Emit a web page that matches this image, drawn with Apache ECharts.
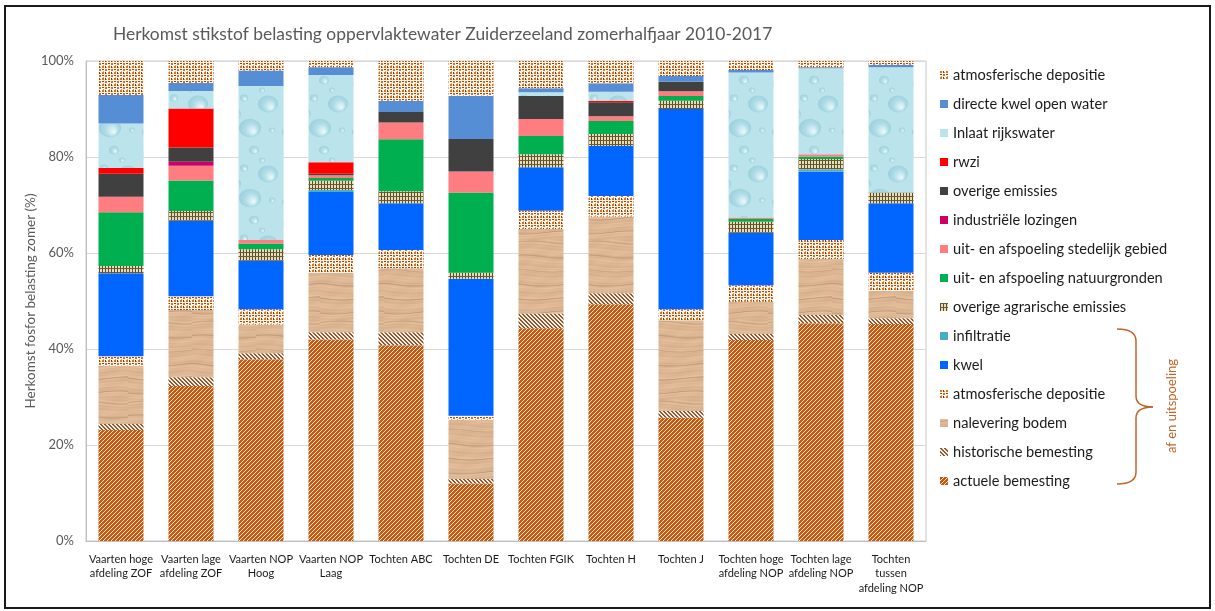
<!DOCTYPE html>
<html>
<head>
<meta charset="utf-8">
<title>Herkomst stikstof belasting oppervlaktewater Zuiderzeeland</title>
<script src="https://cdn.jsdelivr.net/npm/echarts@6/dist/echarts.min.js"></script>
<style>
  html, body { margin: 0; padding: 0; background: #ffffff; }
  #chart { width: 1215px; height: 611px; }
</style>
</head>
<body>
<div id="chart"></div>
<script>
// Gebieden (x-as)
const categories = [
  'Vaarten hoge\nafdeling ZOF', 'Vaarten lage\nafdeling ZOF', 'Vaarten NOP\nHoog', 'Vaarten NOP\nLaag',
  'Tochten ABC', 'Tochten DE', 'Tochten FGIK', 'Tochten H', 'Tochten J',
  'Tochten hoge\nafdeling NOP', 'Tochten lage\nafdeling NOP', 'Tochten\ntussen\nafdeling NOP'
];

// Aandeel per bron (%), van onder naar boven gestapeld
const actueleBemesting     = [23.1, 32.3, 37.85, 42.0, 40.8, 12.0, 44.3, 49.3, 25.7, 41.9, 45.35, 45.2];
const historischeBemesting = [1.3, 1.8, 1.25, 1.5, 2.7, 0.9, 3.1, 2.3, 1.4, 1.2, 1.75, 1.2];
const naleveringBodem      = [12.1, 14.0, 6.0, 12.4, 13.3, 12.3, 17.6, 16.0, 18.9, 6.75, 11.65, 5.75];
const atmDepositieBodem    = [2.0, 2.9, 3.2, 3.7, 3.8, 0.9, 3.8, 4.3, 2.3, 3.45, 3.95, 3.75];
const kwel                 = [17.3, 15.7, 10.1, 13.1, 9.75, 28.55, 9.05, 10.4, 41.7, 10.9, 14.25, 14.45];
const infiltratie          = [0, 0, 0, 0.4, 0, 0, 0, 0, 0, 0, 0.5, 0];
const overigeAgrarisch     = [1.5, 2.05, 2.4, 2.0, 2.5, 1.25, 2.7, 2.5, 1.7, 2.3, 2.15, 2.25];
const natuurgronden        = [11.2, 6.35, 1.2, 0.5, 10.85, 16.7, 3.85, 2.7, 1.0, 0.6, 0.5, 0];
const stedelijkGebied      = [3.2, 3.1, 0.7, 0.6, 3.5, 4.4, 3.5, 1.0, 1.0, 0.3, 0.45, 0];
const industrieleLozingen  = [0, 0.8, 0, 0, 0, 0, 0, 0, 0, 0, 0, 0];
const overigeEmissies      = [4.8, 3.0, 0, 0.3, 2.2, 6.75, 4.8, 2.9, 2.0, 0, 0, 0];
const rwzi                 = [1.2, 8.1, 0, 2.4, 0, 0, 0, 0.3, 0, 0, 0, 0];
const inlaatRijkswater     = [9.3, 3.65, 32.1, 18.2, 0, 0, 0.8, 1.9, 0, 30.2, 17.95, 26.1];
const directeKwel          = [5.9, 1.65, 3.2, 1.6, 2.3, 8.95, 0.8, 1.75, 1.2, 0.5, 0.2, 0.5];
const atmDepositieWater    = [7.1, 4.6, 2.0, 1.3, 8.3, 7.3, 5.7, 4.65, 3.1, 1.9, 1.3, 0.8];

// Y-as ticks
const yTicks = [0, 20, 40, 60, 80, 100];

// ---------- vulpatronen ----------
function hexRgb(h) {
  const n = parseInt(h.slice(1), 16);
  return [(n >> 16) & 255, (n >> 8) & 255, n & 255];
}
function pixelTile(w, h, fn) {
  const c = document.createElement('canvas');
  c.width = w; c.height = h;
  const ctx = c.getContext('2d');
  const img = ctx.createImageData(w, h);
  for (let y = 0; y < h; y++) {
    for (let x = 0; x < w; x++) {
      const rgb = fn(x, y);
      const i = (y * w + x) * 4;
      img.data[i] = rgb[0]; img.data[i + 1] = rgb[1]; img.data[i + 2] = rgb[2]; img.data[i + 3] = 255;
    }
  }
  ctx.putImageData(img, 0, 0);
  return c;
}
function pattern(canvas) { return { image: canvas, repeat: 'repeat' }; }

// schuine arcering, oranje met witte lijnen
const patActueel = pattern(pixelTile(4, 4, (x, y) =>
  ((x + y) % 4 === 3) ? hexRgb('#F6E2D0') : hexRgb('#C55A11')));

// schuine arcering andersom, bruin op wit
const patHistorisch = pattern(pixelTile(4, 4, (x, y) =>
  (((x - y) % 4 + 4) % 4 < 2) ? hexRgb('#8C5A30') : hexRgb('#F7F0E8')));

// confetti van oranje en bruine stippen
const patDepositie = pattern(pixelTile(6, 6, (x, y) => {
  if (x < 2 && y < 2) return hexRgb('#E0701A');
  if (x >= 3 && x < 5 && y >= 3 && y < 5) return hexRgb('#E06A16');
  if (x === 3 && y < 2) return hexRgb('#7A3A12');
  if (x < 2 && y === 3) return hexRgb('#8A4516');
  if (x === 4 && y === 1) return hexRgb('#EC8A3C');
  if (x === 1 && y === 5) return hexRgb('#F0A060');
  return hexRgb('#FFF8F0');
}));

// ruitjes, donker olijf op beige
const patAgrarisch = pattern(pixelTile(3, 4, (x, y) => {
  if (y === 0) return hexRgb('#6B5A34');
  if (x === 0) return hexRgb('#5A4A2A');
  return hexRgb('#E8DFB6');
}));

// houtnerf
const patHout = pattern((function () {
  const w = 64, h = 80;
  return pixelTile(w, h, (x, y) => {
    const yy = y + 1.5 * Math.sin(x * 0.08 + y * 0.05);
    let v = 4 * Math.sin(yy * 0.7) + 3 * Math.sin(yy * 1.9 + 1.3) + 2 * Math.sin(yy * 3.1 + x * 0.03);
    const streak = Math.sin(yy * 0.45 + 0.6);
    if (streak > 0.93) v -= 22 * (streak - 0.93) / 0.07;
    v += 2 * Math.sin(x * 0.21 + y * 0.4);
    return [Math.round(221 + v), Math.round(183 + v * 0.95), Math.round(148 + v * 0.9)];
  });
})());

// waterdruppels op lichtblauw
const patWater = pattern((function () {
  const c = document.createElement('canvas');
  c.width = 70; c.height = 70;
  const ctx = c.getContext('2d');
  ctx.fillStyle = '#BAE3EC';
  ctx.fillRect(0, 0, 70, 70);
  const drops = [[12, 14, 9], [44, 10, 5], [58, 34, 10], [24, 44, 7], [40, 58, 11], [6, 62, 4], [34, 28, 4], [62, 60, 3], [18, 30, 3], [52, 20, 3]];
  drops.forEach(([cx, cy, r]) => {
    for (let dx = -70; dx <= 70; dx += 70) {
      for (let dy = -70; dy <= 70; dy += 70) {
        const px = cx + dx, py = cy + dy;
        const g = ctx.createRadialGradient(px + r * 0.35, py + r * 0.35, r * 0.1, px, py, r);
        g.addColorStop(0, '#E3F5F9');
        g.addColorStop(0.55, '#AEDCE6');
        g.addColorStop(1, '#9BCFDC');
        ctx.fillStyle = g;
        ctx.beginPath();
        ctx.ellipse(px, py, r, r * 0.85, 0, 0, Math.PI * 2);
        ctx.fill();
      }
    }
  });
  return c;
})());

// ---------- reeksen ----------
const seriesDefs = [
  ['actuele bemesting', actueleBemesting, patActueel],
  ['historische bemesting', historischeBemesting, patHistorisch],
  ['nalevering bodem', naleveringBodem, patHout],
  ['atmosferische depositie', atmDepositieBodem, patDepositie],
  ['kwel', kwel, '#0066FF'],
  ['infiltratie', infiltratie, '#4BACC6'],
  ['overige agrarische emissies', overigeAgrarisch, patAgrarisch],
  ['uit- en afspoeling natuurgronden', natuurgronden, '#00B050'],
  ['uit- en afspoeling stedelijk gebied', stedelijkGebied, '#FF7C80'],
  ['industriële lozingen', industrieleLozingen, '#CC0066'],
  ['overige emissies', overigeEmissies, '#404040'],
  ['rwzi', rwzi, '#FF0000'],
  ['Inlaat rijkswater', inlaatRijkswater, patWater],
  ['directe kwel open water', directeKwel, '#558ED5'],
  // tweede depositiepost (op open water); spatie houdt de legendanaam uniek
  ['atmosferische depositie ', atmDepositieWater, patDepositie]
];

const series = seriesDefs.map(([name, data, color]) => ({
  name: name,
  type: 'bar',
  stack: 'totaal',
  barWidth: 45,
  data: data,
  itemStyle: { color: color },
  emphasis: { disabled: true }
}));

const FONT = 'Lato, "Open Sans", sans-serif';
const BRACE = '#C0662A';

// accolade rechts naast de legenda
const brace = [
  { type: 'bezierCurve', shape: { x1: 1117, y1: 329, x2: 1136, y2: 341, cpx1: 1136, cpy1: 329 } },
  { type: 'line', shape: { x1: 1136, y1: 341, x2: 1136, y2: 396 } },
  { type: 'bezierCurve', shape: { x1: 1136, y1: 396, x2: 1153, y2: 407, cpx1: 1136, cpy1: 407 } },
  { type: 'bezierCurve', shape: { x1: 1153, y1: 407, x2: 1136, y2: 418, cpx1: 1136, cpy1: 407 } },
  { type: 'line', shape: { x1: 1136, y1: 418, x2: 1136, y2: 472 } },
  { type: 'bezierCurve', shape: { x1: 1136, y1: 472, x2: 1117, y2: 484, cpx1: 1136, cpy1: 484 } }
].map(el => Object.assign(el, { style: { fill: 'none', stroke: BRACE, lineWidth: 1.5 }, silent: true }));

const chart = echarts.init(document.getElementById('chart'), null, { renderer: 'canvas' });
chart.setOption({
  animation: false,
  textStyle: { fontFamily: FONT },
  title: {
    text: 'Herkomst stikstof belasting oppervlaktewater Zuiderzeeland zomerhalfjaar 2010-2017',
    left: 108,
    top: 21,
    textStyle: { fontFamily: FONT, fontSize: 17.4, fontWeight: 'normal', color: '#595959' }
  },
  legend: {
    orient: 'vertical',
    left: 935,
    top: 62,
    icon: 'rect',
    itemWidth: 8,
    itemHeight: 8,
    itemGap: 13,
    data: seriesDefs.map(d => d[0]).reverse(),
    formatter: n => n.trim(),
    selectedMode: false,
    textStyle: { fontFamily: FONT, fontSize: 14.6, color: '#1a1a1a', lineHeight: 16 }
  },
  grid: {
    left: 86, right: 289, top: 61, bottom: 70,
    show: true, borderColor: '#C8C8C8', borderWidth: 1
  },
  xAxis: {
    type: 'category',
    data: categories,
    axisTick: { show: false },
    axisLine: { lineStyle: { color: '#BFBFBF' } },
    axisLabel: {
      interval: 0, margin: 11, fontSize: 11, lineHeight: 14.5,
      color: '#1a1a1a', fontFamily: FONT
    }
  },
  yAxis: {
    type: 'value',
    min: yTicks[0],
    max: yTicks[yTicks.length - 1],
    interval: yTicks[1] - yTicks[0],
    name: 'Herkomst fosfor belasting zomer (%)',
    nameLocation: 'middle',
    nameGap: 48,
    nameMoveOverlap: false,
    nameTextStyle: { fontFamily: FONT, fontSize: 13.5, color: '#595959' },
    axisLine: { show: true, lineStyle: { color: '#BFBFBF' } },
    axisTick: { show: false },
    splitLine: { lineStyle: { color: '#D9D9D9' } },
    axisLabel: { formatter: '{value}%', fontSize: 13, color: '#595959', margin: 12, fontFamily: FONT }
  },
  graphic: [
    {
      type: 'rect',
      shape: { x: 5, y: 6, width: 1205, height: 602 },
      style: { fill: 'none', stroke: '#1a1a1a', lineWidth: 2 },
      silent: true
    },
    ...brace,
    {
      type: 'text',
      x: 1172,
      y: 406,
      rotation: Math.PI / 2,
      style: {
        text: 'af en uitspoeling',
        fill: BRACE,
        font: '13px ' + FONT,
        align: 'center',
        verticalAlign: 'middle'
      },
      silent: true
    }
  ],
  series: series
});
</script>
</body>
</html>
